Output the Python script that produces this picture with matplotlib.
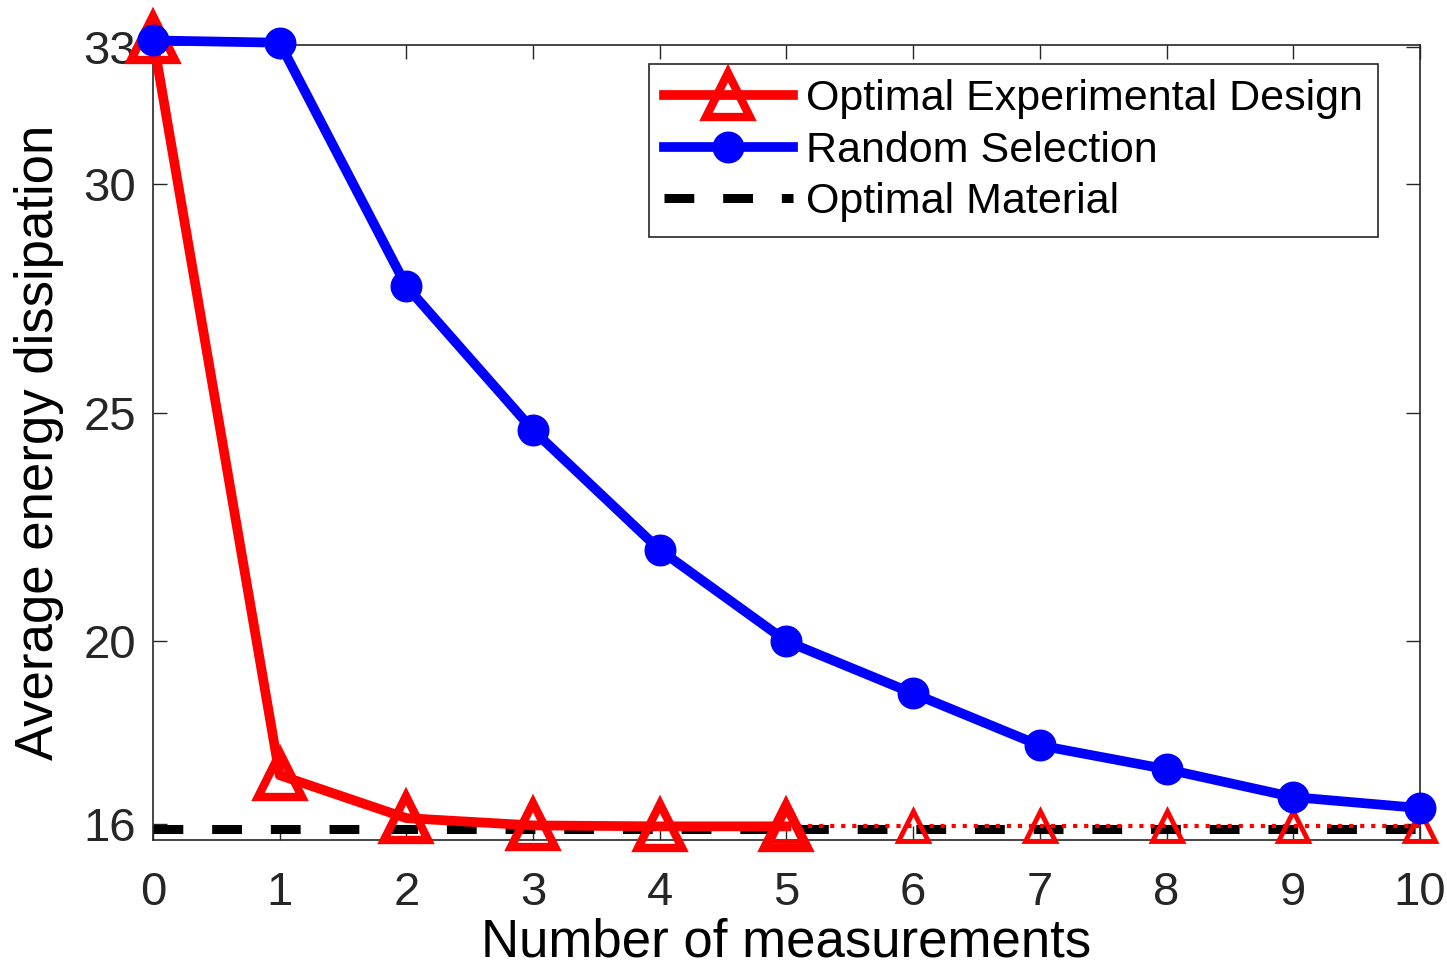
import matplotlib
matplotlib.use("Agg")
import matplotlib.pyplot as plt

plt.rcParams['font.family'] = ['Liberation Sans', 'DejaVu Sans']

measurements = [0, 1, 2, 3, 4, 5, 6, 7, 8, 9, 10]
oed_solid = [33.2, 17.07, 16.13, 15.97, 15.95, 15.95]
oed_dotted = [15.95, 15.95, 15.95, 15.95, 15.95, 15.95]
random_sel = [33.15, 33.1, 27.77, 24.62, 22.0, 20.0, 18.86, 17.72, 17.2, 16.59, 16.35]
optimal_material = 15.9

yticks = [16, 20, 25, 30, 33]

fig = plt.figure(figsize=(14.47, 9.76), dpi=100)
ax = fig.add_axes([0.1057, 0.1393, 0.8756, 0.8146])

# black dashed optimum first so the curves sit on top
ax.plot([measurements[0], measurements[-1]], [optimal_material, optimal_material],
        color='black', linestyle=(0, (3.3, 3.2)), linewidth=6.5,
        label='Optimal Material', clip_on=False, zorder=2)

ax.plot(measurements[5:], oed_dotted, color='red', linestyle=':', linewidth=3,
        marker='^', markersize=21, markerfacecolor='none', markeredgewidth=3.5,
        clip_on=False, zorder=3)

ax.plot(measurements[:6], oed_solid, color='red', linewidth=7,
        marker='^', markersize=31, markerfacecolor='none', markeredgewidth=6,
        label='Optimal Experimental Design', clip_on=False, zorder=4)

ax.plot(measurements, random_sel, color='blue', linewidth=7,
        marker='o', markersize=22,
        label='Random Selection', clip_on=False, zorder=5)

ax.set_xlim(0, 10)
ax.set_ylim(15.65, 33.05)
ax.set_xticks(measurements)
ax.set_yticks(yticks)

ax.tick_params(axis='both', direction='in', length=10, width=1, labelsize=34,
               colors='#262626', top=True, right=True)
ax.tick_params(axis='x', pad=22)
ax.tick_params(axis='y', pad=12)
for s in ax.spines.values():
    s.set_color('#262626')
    s.set_linewidth(1.2)

ax.set_xlabel('Number of measurements', fontsize=38, labelpad=2)
ax.set_ylabel('Average energy dissipation', fontsize=38, labelpad=14)

h, l = ax.get_legend_handles_labels()
order = [1, 2, 0]
leg = ax.legend([h[i] for i in order], [l[i] for i in order],
                loc='upper right', bbox_to_anchor=(0.9668, 0.9761),
                borderaxespad=0, fontsize=31, fancybox=False, framealpha=1,
                edgecolor='#262626', handlelength=3, borderpad=0.35,
                labelspacing=0.27, handletextpad=0.3)
leg.get_frame().set_linewidth(1.2)

plt.savefig('out.png', dpi=100)
